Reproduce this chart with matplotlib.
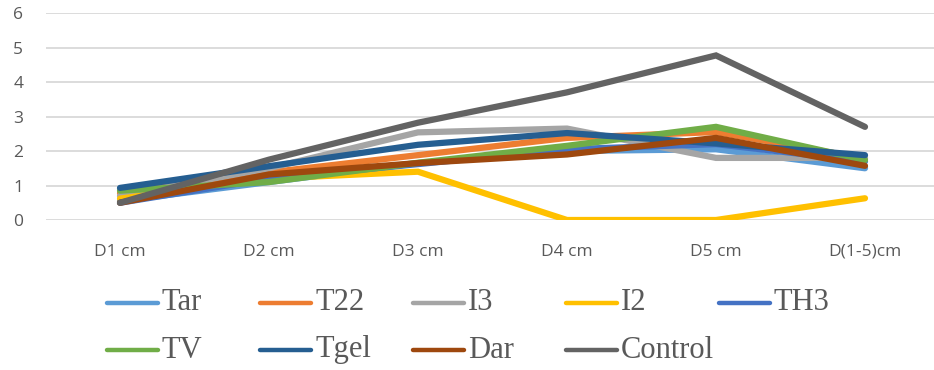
import matplotlib.pyplot as plt
from matplotlib.lines import Line2D

# diameter measurements per treatment
categories = ["D1 cm", "D2 cm", "D3 cm", "D4 cm", "D5 cm", "D(1-5)cm"]
series_names = ["Tar", "T22", "I3", "I2", "TH3", "TV", "Tgel", "Dar", "Control"]

tar = [0.55, 1.10, 1.65, 2.00, 2.05, 1.50]
t22 = [0.78, 1.38, 1.88, 2.38, 2.55, 1.78]
i3 = [0.70, 1.50, 2.54, 2.65, 1.80, 1.80]
i2 = [0.62, 1.20, 1.40, 0.00, 0.00, 0.63]
th3 = [0.50, 1.20, 1.62, 2.05, 2.20, 1.70]
tv = [0.85, 1.10, 1.66, 2.15, 2.70, 1.74]
tgel = [0.93, 1.56, 2.18, 2.52, 2.22, 1.88]
dar = [0.50, 1.32, 1.65, 1.90, 2.38, 1.57]
control = [0.50, 1.75, 2.82, 3.70, 4.77, 2.70]

values = [tar, t22, i3, i2, th3, tv, tgel, dar, control]
colors = ["#5B9BD5", "#ED7D31", "#A5A5A5", "#FFC000", "#4472C4",
          "#70AD47", "#255E91", "#9E480E", "#636363"]

fig = plt.figure(figsize=(9.34, 3.70), dpi=100)
ax = fig.add_axes([45.5 / 934, 1 - 220 / 370, 894 / 934, 207 / 370])

x = range(len(categories))
for vals, col in zip(values, colors):
    ax.plot(x, vals, color=col, linewidth=4.5, solid_capstyle="round",
            solid_joinstyle="miter")

ax.set_xlim(-0.5, 5.5)
ax.set_ylim(0, 6)
ax.set_yticks(range(0, 7))
ax.set_xticks(list(x))
ax.set_xticklabels(categories)
ax.grid(axis="y", color="#D9D9D9", linewidth=1.3)
ax.set_axisbelow(True)
for s in ax.spines.values():
    s.set_visible(False)
ax.tick_params(length=0, colors="#595959", labelsize=12.5)
ax.tick_params(axis="x", pad=17)
ax.tick_params(axis="y", pad=16)
for lab in ax.get_xticklabels() + ax.get_yticklabels():
    lab.set_fontfamily("Open Sans")

# legend laid out in equal-width columns
col_w = 153
x0 = 107
rows_y = [303, 350]
for i, (name, col) in enumerate(zip(series_names, colors)):
    r, c = divmod(i, 5)
    lx = x0 + c * col_w
    ly = 1 - rows_y[r] / 370
    fig.add_artist(Line2D([lx / 934, (lx + 51) / 934], [ly, ly], color=col,
                          linewidth=3.2, solid_capstyle="round",
                          transform=fig.transFigure))
    fig.text((lx + 55) / 934, ly, name, fontsize=22, family="Liberation Serif",
             color="#595959", va="center", ha="left")

fig.savefig("out.png", dpi=100)
